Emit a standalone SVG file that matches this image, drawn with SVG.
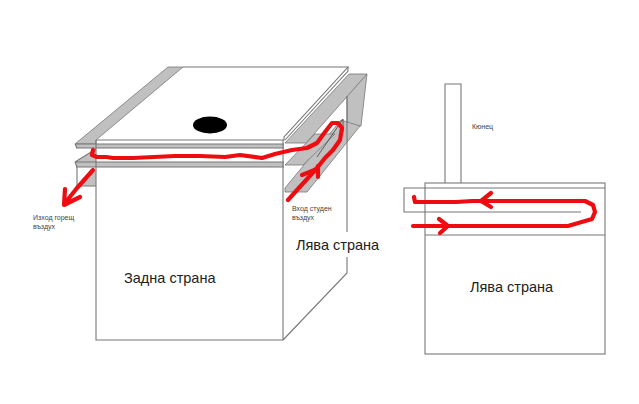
<svg xmlns="http://www.w3.org/2000/svg" width="639" height="404" viewBox="0 0 639 404">
<style>
.l{fill:none;stroke:#777;stroke-width:1.1}
.g{fill:#c0c0c0;stroke:#777;stroke-width:.8}
.r{fill:none;stroke:#ee0c10;stroke-width:4.2;stroke-linecap:round;stroke-linejoin:round}
text{font-family:"Liberation Sans",Arial,sans-serif;fill:#444}
.s{font-size:7px}
.b{font-size:14.5px;fill:#222}
</style>
<rect width="639" height="404" fill="#fff"/>
<g id="box-left">
<polygon class="g" points="168,67 183,67 96,140 96,144 75,144"/>
<polygon class="g" points="347,96 367,74 361,126 347,126"/>
<polygon class="g" points="341,120 360,126 307,192 285,192 285,188"/>
<polygon class="g" points="349,74 367,74 306,143 285,143"/>
<polygon class="g" points="315,134 335,134 303,165 285,165"/>
<path class="l" d="M183,67H348L284,137V140H96"/>
<path class="l" d="M348,67V71L285,140"/>
<rect x="76" y="144" width="208" height="4" fill="#c0c0c0"/>
<rect x="76" y="162" width="208" height="5" fill="#c0c0c0"/>
<polygon fill="#c0c0c0" points="76,162 96,149 96,162"/>
<polygon fill="#c0c0c0" points="77,186 96,186 96,170"/>
<path class="l" d="M75,144H284M76,148H284M76,162H284M76,167H284M75,144L77,148M75,162L77,167M75,162L96,149M77,167V186H96"/>
<path class="l" d="M96,140V340H283V140M283,340L347,273V257M347,232V96"/>
<path d="M343,119V132M343,119L317,157" fill="none" stroke="#444" stroke-width=".8"/>
<ellipse cx="210" cy="125" rx="17" ry="8.500" fill="#000"/>
</g>
<g id="box-right">
<rect class="l" x="425" y="183" width="180" height="171"/>
<path class="l" d="M425,188H605M425,235H605"/>
<path class="l" d="M445,183V84H461V183"/>
<path class="l" d="M425,188H404V212H581"/>
</g>
<g id="connectors">
<path class="r" d="M93,150L92,155L97,157L106,157L113,158L133,158L175,156L200,156L225,157L240,155L262,158L275,154L292,150L307,148L317,143L325,132L332,123L338,123L342,128L340,140L333,150L325,158L317,168L308,178L297,190L288,200"/>
<path class="r" d="M302,175L317,169M318,166V177"/>
<path class="r" d="M93,170L77,188L65,203M65,189L64,205L80,197"/>
<path class="r" d="M414,197L415,202H456L472,201H585L593,205L595,212L592,219L568,226H413"/>
<path class="r" d="M491,193L481,201L491,207"/>
<path class="r" d="M439,219L448,226L440,233"/>
</g>
<g id="labels">
<text class="s" x="33" y="220">Изход горещ</text>
<text class="s" x="33" y="229">въздух</text>
<text class="s" x="292" y="211">Вход студен</text>
<text class="s" x="292" y="220">въздух</text>
<text class="s" x="472" y="129">Кюнец</text>
<text class="b" x="124" y="283">Задна страна</text>
<text class="b" x="296" y="250">Лява страна</text>
<text class="b" x="470" y="292">Лява страна</text>
</g>
</svg>
